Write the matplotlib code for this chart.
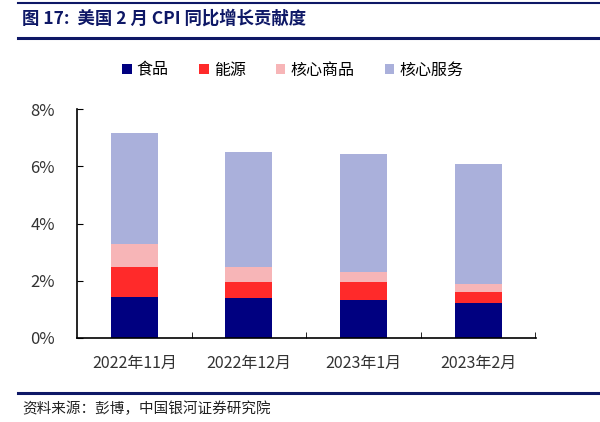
import matplotlib.pyplot as plt
from matplotlib.lines import Line2D
import numpy as np

plt.rcParams['font.family'] = ['Noto Sans CJK SC', 'DejaVu Sans']

# Data (percentage points)
months = ['2022年11月', '2022年12月', '2023年1月', '2023年2月']
food = [1.42, 1.39, 1.33, 1.23]
energy = [1.05, 0.58, 0.62, 0.39]
core_goods = [0.82, 0.50, 0.35, 0.27]
core_services = [3.87, 4.03, 4.13, 4.19]

series_names = ['食品', '能源', '核心商品', '核心服务']
colors = ['#000080', '#FF2A2A', '#F7B5B7', '#AAB0DB']

fig = plt.figure(figsize=(6, 4.22), dpi=100)
ax = fig.add_axes([77 / 600, 1 - 338 / 422, 459 / 600, 229 / 422])

x = np.arange(len(months))
bottom = np.zeros(len(months))
for vals, name, c in zip([food, energy, core_goods, core_services], series_names, colors):
    ax.bar(x, vals, bottom=bottom, width=0.41, color=c, label=name)
    bottom += np.array(vals)

ax.set_xlim(-0.5, len(months) - 0.495)
ax.set_ylim(0, 8)
ax.set_yticks([0, 2, 4, 6, 8])
ax.set_yticklabels(['0%', '2%', '4%', '6%', '8%'])
ax.set_xticks(x)
ax.set_xticklabels(months)
ax.tick_params(axis='x', length=0, labelsize=11.5, pad=12)
ax.tick_params(axis='y', direction='in', length=4, labelsize=12, pad=16)
ax.tick_params(axis='both', labelcolor='#333333')
# minor ticks between categories on the x axis
ax.set_xticks(x + 0.5, minor=True)
ax.tick_params(axis='x', which='minor', direction='in', length=4, color='black')
for side in ['top', 'right']:
    ax.spines[side].set_visible(False)
for side in ['left', 'bottom']:
    ax.spines[side].set_linewidth(1.2)

ax.legend(loc='upper center', bbox_to_anchor=(0.47, 1.27), ncol=4, frameon=False,
          fontsize=11.5, handlelength=0.6, handleheight=0.6, handletextpad=0.3,
          columnspacing=1.9)

# Header / footer decoration
navy = '#0E1866'
fig.add_artist(Line2D([0.03, 1.0], [1 - 3 / 422, 1 - 3 / 422], color=navy, lw=1.5))
fig.add_artist(Line2D([0.03, 1.0], [1 - 38 / 422, 1 - 38 / 422], color=navy, lw=2.2))
fig.add_artist(Line2D([0.03, 1.0], [1 - 393 / 422, 1 - 393 / 422], color=navy, lw=2.2))
fig.text(22 / 600, 1 - 19 / 422, '图 17:  美国 2 月 CPI 同比增长贡献度', fontsize=12.5,
         fontweight='bold', color=navy, va='center', ha='left')
fig.text(22 / 600, 1 - 409 / 422, '资料来源：彭博，中国银河证券研究院', fontsize=10.5,
         style='italic', color='#222222', va='center', ha='left')

fig.savefig('out.png', dpi=100)
